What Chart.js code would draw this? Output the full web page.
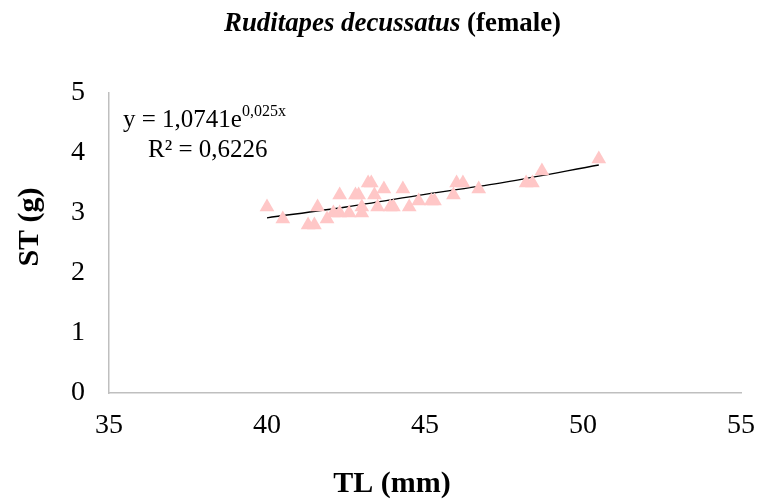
<!DOCTYPE html>
<html lang="en">
<head>
    <meta charset="UTF-8">
    <title>Ruditapes decussatus (female)</title>
    <script src="https://cdn.jsdelivr.net/npm/chart.js"></script>
    <style>
        body { margin: 0; background: #fff; }
        #wrap { width: 762px; height: 501px; }
    </style>
</head>
<body>
    <div id="wrap"><canvas id="chart" width="762" height="501"></canvas></div>

    <script>
        // TL (mm) and ST (g) readings
        const tl = [40.0, 40.5, 41.3, 41.5, 41.6, 41.9, 42.1, 42.3, 42.3, 42.6, 42.8, 42.9,
                    43.0, 43.0, 43.2, 43.3, 43.4, 43.5, 43.7, 43.9, 44.0, 44.3, 44.5, 44.8,
                    45.2, 45.3, 45.9, 46.0, 46.2, 46.7, 48.2, 48.4, 48.7, 50.5];
        const st = [3.1, 2.9, 2.8, 2.8, 3.1, 2.9, 3.0, 3.3, 3.0, 3.0, 3.3, 3.3,
                    3.1, 3.0, 3.5, 3.5, 3.3, 3.1, 3.4, 3.1, 3.1, 3.4, 3.1, 3.2,
                    3.2, 3.2, 3.3, 3.5, 3.5, 3.4, 3.5, 3.5, 3.7, 3.9];

        // trendline
        const trendX = [40.0, 42.5, 45.0, 47.5, 50.5];
        const trendY = [2.92, 3.10, 3.31, 3.51, 3.80];

        const xTicks = [35, 40, 45, 50, 55];
        const yTicks = [0, 1, 2, 3, 4, 5];

        const serif = "'Liberation Serif', 'Times New Roman', serif";

        // title, axis titles and equation drawn as text
        const textPlugin = {
            id: 'texts',
            afterDraw(chart) {
                const c = chart.ctx;
                c.save();
                c.fillStyle = '#000';
                c.textBaseline = 'alphabetic';

                // main title: italic name + bold "(female)"
                c.font = 'italic bold 27px ' + serif;
                const p1 = 'Ruditapes decussatus';
                const w1 = c.measureText(p1).width;
                c.font = 'bold 27px ' + serif;
                const p2 = ' (female)';
                const w2 = c.measureText(p2).width;
                const sx = 337 / (w1 + w2);
                c.save();
                c.translate(224, 31);
                c.scale(sx, 1);
                c.font = 'italic bold 27px ' + serif;
                c.fillText(p1, 0, 0);
                c.font = 'bold 27px ' + serif;
                c.fillText(p2, w1, 0);
                c.restore();

                // axis titles
                c.font = 'bold 30px ' + serif;
                c.textAlign = 'center';
                c.textBaseline = 'middle';
                c.fillText('TL (mm)', 392, 484);
                c.save();
                c.translate(30, 227);
                c.rotate(-Math.PI / 2);
                c.fillText('ST (g)', 0, 0);
                c.restore();

                // equation
                c.textAlign = 'left';
                c.textBaseline = 'alphabetic';
                c.font = '25px ' + serif;
                const eq = 'y = 1,0741e';
                c.fillText(eq, 123, 127);
                const we = c.measureText(eq).width;
                c.font = '16px ' + serif;
                c.fillText('0,025x', 123 + we, 116);
                c.font = '25px ' + serif;
                c.fillText('R² = 0,6226', 148, 157);
                c.restore();
            }
        };

        new Chart(document.getElementById('chart'), {
            type: 'scatter',
            data: {
                datasets: [
                    {
                        label: 'ST',
                        data: tl.map((x, i) => ({ x: x, y: st[i] })),
                        pointStyle: 'triangle',
                        pointRadius: 8.5,
                        pointHoverRadius: 8.5,
                        backgroundColor: '#ffc7c7',
                        borderColor: '#ffc7c7',
                        borderWidth: 0
                    },
                    {
                        label: 'Trend',
                        type: 'line',
                        data: trendX.map((x, i) => ({ x: x, y: trendY[i] })),
                        borderColor: '#000',
                        borderWidth: 1.3,
                        pointRadius: 0,
                        cubicInterpolationMode: 'monotone',
                        fill: false
                    }
                ]
            },
            options: {
                responsive: false,
                animation: false,
                layout: { padding: { left: 0, right: 21, top: 93, bottom: 0 } },
                plugins: {
                    legend: { display: false },
                    tooltip: { enabled: false }
                },
                scales: {
                    x: {
                        type: 'linear',
                        min: 35,
                        max: 55,
                        afterFit: s => { s.height = 108; s.paddingRight = 0; s.paddingLeft = 0; },
                        afterBuildTicks: s => { s.ticks = xTicks.map(v => ({ value: v })); },
                        grid: { display: false, drawTicks: false },
                        border: { display: true, color: '#bfbfbf', width: 1.5 },
                        ticks: { color: '#000', padding: 16, font: { family: serif, size: 28 } }
                    },
                    y: {
                        min: 0,
                        max: 5,
                        afterFit: s => { s.width = 109; },
                        afterBuildTicks: s => { s.ticks = yTicks.map(v => ({ value: v })); },
                        grid: { display: false, drawTicks: false },
                        border: { display: true, color: '#bfbfbf', width: 1.5 },
                        ticks: { color: '#000', padding: 24, font: { family: serif, size: 28 } }
                    }
                }
            },
            plugins: [textPlugin]
        });
    </script>
</body>
</html>
